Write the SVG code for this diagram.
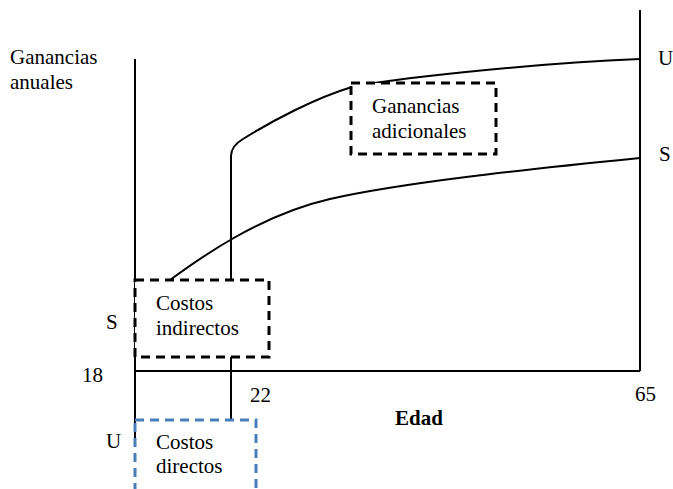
<svg xmlns="http://www.w3.org/2000/svg" width="673" height="489" viewBox="0 0 673 489">
  <style>
    text { font-family: "Liberation Serif", "Times New Roman", serif; font-size: 21px; fill: #000; }
    .bold { font-weight: bold; }
    .axis { stroke: #000; stroke-width: 2; fill: none; }
    .curve { stroke: #000; stroke-width: 2; fill: none; }
    .box { stroke: #000; stroke-width: 3; stroke-dasharray: 9 6; fill: #fff; }
    .box-blue { stroke: #4a7ebb; stroke-width: 3; stroke-dasharray: 9 6; fill: none; }
  </style>
  <rect width="673" height="489" fill="#fff"/>

  <!-- axes and guide lines -->
  <g id="connectors">
    <line class="axis" x1="135" y1="59" x2="135" y2="442"/>
    <line class="axis" x1="135" y1="371" x2="640" y2="371"/>
    <line class="axis" x1="640" y1="10" x2="640" y2="371"/>
    <!-- U profile: university path with step at age 22 -->
    <path class="curve" d="M231,420 L231,156 Q231,146 243,139 C270,122 315,98 352,87 C385,80 520,64 640,59"/>
    <!-- S profile: secondary-school path -->
    <path class="curve" d="M170,280 C200,258 260,215 330,199 C400,183 520,170 640,158"/>
  </g>

  <g id="label-y-axis">
    <text x="10" y="64">Ganancias</text>
    <text x="10" y="89">anuales</text>
  </g>
  <g id="label-u-right"><text x="658" y="65">U</text></g>
  <g id="label-s-right"><text x="659" y="161">S</text></g>
  <g id="label-s-left"><text x="106" y="329">S</text></g>
  <g id="label-18"><text x="82" y="382">18</text></g>
  <g id="label-22"><text x="250" y="402">22</text></g>
  <g id="label-65"><text x="635" y="401">65</text></g>
  <g id="label-edad"><text class="bold" x="395" y="425">Edad</text></g>
  <g id="label-u-left"><text x="106" y="448">U</text></g>

  <g id="ganancias-adicionales">
    <rect class="box" x="351" y="83" width="145" height="71"/>
    <text x="372" y="113">Ganancias</text>
    <text x="372" y="138">adicionales</text>
  </g>

  <g id="costos-indirectos">
    <rect class="box" x="135" y="280" width="134" height="77"/>
    <text x="156" y="310">Costos</text>
    <text x="156" y="335">indirectos</text>
  </g>

  <g id="costos-directos">
    <rect class="box-blue" x="135" y="420" width="121" height="80"/>
    <text x="156" y="449">Costos</text>
    <text x="156" y="473">directos</text>
  </g>
</svg>
